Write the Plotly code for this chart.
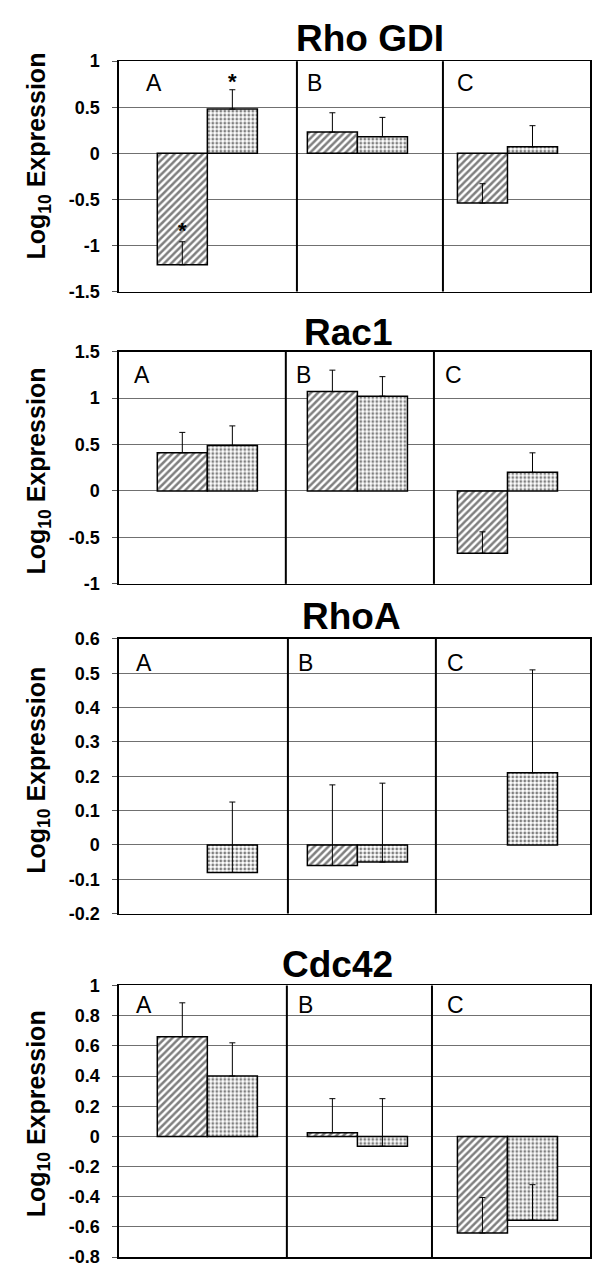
import plotly.graph_objects as go
from plotly.subplots import make_subplots

# ---------------- data ----------------
groups = ["A", "B", "C"]
panel_titles = ["Rho GDI", "Rac1", "RhoA", "Cdc42"]

rho_gdi_hatched = [-1.21, 0.23, -0.54]
rho_gdi_hatched_err = [0.25, 0.21, 0.21]
rho_gdi_dotted = [0.48, 0.18, 0.07]
rho_gdi_dotted_err = [0.21, 0.21, 0.23]

rac1_hatched = [0.41, 1.07, -0.67]
rac1_hatched_err = [0.22, 0.23, 0.23]
rac1_dotted = [0.49, 1.02, 0.20]
rac1_dotted_err = [0.21, 0.21, 0.21]

rhoa_hatched = [None, -0.06, None]
rhoa_hatched_err = [0, 0.235, 0]
rhoa_dotted = [-0.08, -0.05, 0.21]
rhoa_dotted_err = [0.205, 0.23, 0.30]

cdc42_hatched = [0.66, 0.025, -0.64]
cdc42_hatched_err = [0.225, 0.225, 0.235]
cdc42_dotted = [0.40, -0.065, -0.555]
cdc42_dotted_err = [0.22, 0.315, 0.235]

rho_gdi_ticks = [1, 0.5, 0, -0.5, -1, -1.5]
rho_gdi_ticktext = ["1", "0.5", "0", "-0.5", "-1", "-1.5"]
rac1_ticks = [1.5, 1, 0.5, 0, -0.5, -1]
rac1_ticktext = ["1.5", "1", "0.5", "0", "-0.5", "-1"]
rhoa_ticks = [0.6, 0.5, 0.4, 0.3, 0.2, 0.1, 0, -0.1, -0.2]
rhoa_ticktext = ["0.6", "0.5", "0.4", "0.3", "0.2", "0.1", "0", "-0.1", "-0.2"]
cdc42_ticks = [1, 0.8, 0.6, 0.4, 0.2, 0, -0.2, -0.4, -0.6, -0.8]
cdc42_ticktext = ["1", "0.8", "0.6", "0.4", "0.2", "0", "-0.2", "-0.4", "-0.6", "-0.8"]

# significance markers: (panel index, group index, series 0=hatched/1=dotted, y)
asterisks = [(0, 0, 0, -0.84), (0, 0, 1, 0.78)]

# ---------------- layout helpers ----------------
W, H = 592, 1276
FONT = "Liberation Sans, Arial, Helvetica, sans-serif"

panels = [
    dict(hatched=rho_gdi_hatched, herr=rho_gdi_hatched_err, dotted=rho_gdi_dotted, derr=rho_gdi_dotted_err,
         ticks=rho_gdi_ticks, ticktext=rho_gdi_ticktext, rng=[-1.5, 1],
         top=52, bottom=286, seps=[0.597, 1.57], title_xy=(371, 26.5), ytitle_y=148,
         letters=[(145, 65), (307, 65), (457, 65)]),
    dict(hatched=rac1_hatched, herr=rac1_hatched_err, dotted=rac1_dotted, derr=rac1_dotted_err,
         ticks=rac1_ticks, ticktext=rac1_ticktext, rng=[-1, 1.5],
         top=347, bottom=583, seps=[0.523, 1.51], title_xy=(349, 326), ytitle_y=468,
         letters=[(133, 362), (295, 362), (445, 362)]),
    dict(hatched=rhoa_hatched, herr=rhoa_hatched_err, dotted=rhoa_dotted, derr=rhoa_dotted_err,
         ticks=rhoa_ticks, ticktext=rhoa_ticktext, rng=[-0.2, 0.6],
         top=639, bottom=918, seps=[0.537, 1.523], title_xy=(352.5, 614.5), ytitle_y=772,
         letters=[(135, 654), (298, 654), (447, 654)]),
    dict(hatched=cdc42_hatched, herr=cdc42_hatched_err, dotted=cdc42_dotted, derr=cdc42_dotted_err,
         ticks=cdc42_ticks, ticktext=cdc42_ticktext, rng=[-0.8, 1],
         top=991, bottom=1267, seps=[0.53, 1.497], title_xy=(338.5, 968), ytitle_y=1121,
         letters=[(135, 1002), (297, 1002), (447, 1002)]),
]

X_LEFT, X_RIGHT = 119, 591
xpos = list(range(len(groups)))

fig = make_subplots(rows=4, cols=1)

def px_x(p):
    return p / W

def px_y(p):
    return 1 - p / H

hatch_pattern = dict(shape="/", fgcolor="black", bgcolor="white", size=5, solidity=0.5)
dot_pattern = dict(shape=".", fgcolor="black", bgcolor="white", size=4, solidity=0.4)

annotations = []
shapes = []

for i, p in enumerate(panels):
    r = i + 1
    fig.add_trace(go.Bar(
        x=xpos, y=p["hatched"],
        marker=dict(color="white", pattern=hatch_pattern, line=dict(color="black", width=1.5)),
        error_y=dict(type="data", symmetric=False, array=p["herr"], arrayminus=[0] * 3,
                     color="black", thickness=1, width=3),
        showlegend=False, hoverinfo="skip",
    ), row=r, col=1)
    fig.add_trace(go.Bar(
        x=xpos, y=p["dotted"],
        marker=dict(color="white", pattern=dot_pattern, line=dict(color="black", width=1.5)),
        error_y=dict(type="data", symmetric=False, array=p["derr"], arrayminus=[0] * 3,
                     color="black", thickness=1, width=3),
        showlegend=False, hoverinfo="skip",
    ), row=r, col=1)

    ysuf = "" if r == 1 else str(r)
    fig.layout["xaxis" + ysuf].update(
        domain=[px_x(X_LEFT), px_x(X_RIGHT)], range=[-0.59, 2.55],
        showticklabels=False, ticks="", showgrid=False, zeroline=False,
        showline=True, linecolor="black", linewidth=1.5, mirror=True,
    )
    fig.layout["yaxis" + ysuf].update(
        domain=[px_y(p["bottom"]), px_y(p["top"])], range=p["rng"],
        tickvals=p["ticks"], ticktext=p["ticktext"],
        tickfont=dict(family=FONT, size=18, color="black", weight="bold"),
        ticks="outside", ticklen=5, tickcolor="#555555", ticklabelstandoff=9,
        showgrid=True, gridcolor="#707070", gridwidth=1, zeroline=False,
        showline=True, linecolor="black", linewidth=1.5, mirror=True,
    )

    # vertical separators between groups
    for s in p["seps"]:
        shapes.append(dict(type="line", xref="x" + ysuf, yref="y" + ysuf + " domain",
                           x0=s, x1=s, y0=0, y1=1, line=dict(color="black", width=2)))

    # panel title
    tx, ty = p["title_xy"]
    annotations.append(dict(text=panel_titles[i], xref="paper", yref="paper",
                            x=px_x(tx), y=px_y(ty + 2), xanchor="center", yanchor="middle",
                            showarrow=False,
                            font=dict(family=FONT, size=37, color="black", weight="bold")))
    # y-axis title
    annotations.append(dict(text="Log<sub>10</sub> Expression", xref="paper", yref="paper",
                            x=px_x(38), y=px_y(p["ytitle_y"]), xanchor="center", yanchor="middle",
                            textangle=-90, showarrow=False,
                            font=dict(family=FONT, size=25, color="black", weight="bold")))
    # group letters
    for g, (lx, ly) in zip(groups, p["letters"]):
        annotations.append(dict(text=g, xref="paper", yref="paper",
                                x=px_x(lx - 1), y=px_y(ly - 6), xanchor="left", yanchor="top",
                                showarrow=False,
                                font=dict(family=FONT, size=23, color="black")))

for (pi, gi, si, yv) in asterisks:
    ysuf = "" if pi == 0 else str(pi + 1)
    xv = xpos[gi] + (-1 / 6 if si == 0 else 1 / 6)
    annotations.append(dict(text="*", xref="x" + ysuf, yref="y" + ysuf, x=xv, y=yv,
                            xanchor="center", yanchor="middle", showarrow=False,
                            font=dict(family=FONT, size=22, color="black", weight="bold")))

fig.update_layout(
    width=W, height=H,
    margin=dict(l=0, r=0, t=0, b=0),
    paper_bgcolor="white", plot_bgcolor="white",
    barmode="group", bargap=0.333, bargroupgap=0,
    annotations=annotations, shapes=shapes,
    showlegend=False, hovermode=False,
)

# remove the default 8px page margin so the figure sits at the window origin
fig.write_html("out.html",
               config={"displayModeBar": False, "staticPlot": True},
               post_script="document.body.style.margin='0';document.body.style.overflow='hidden';")
